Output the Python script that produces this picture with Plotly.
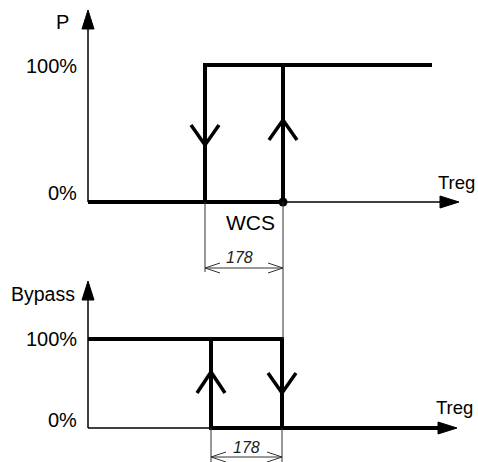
import plotly.graph_objects as go

W, H = 478, 462
OFF = 0          # body margin is removed in the page (see write_html)
FONT = "Liberation Sans, Arial, sans-serif"
INK = "#000000"
DIM = "#333333"

# ── Data: Treg in diagram units measured from the vertical axis ────
WCS = 195             # switching point (dot on the P axis)
HYST_LABEL = "178"    # text written on the dimension lines

P_RISE_T = [0, 195, 195, 344]
P_RISE_V = [0, 0, 100, 100]
P_FALL_T = [344, 117, 117, 0]
P_FALL_V = [100, 100, 0, 0]

BYP_RISE_T = [0, 194, 194, 352]
BYP_RISE_V = [100, 100, 0, 0]
BYP_FALL_T = [352, 123, 123, 0]
BYP_FALL_V = [0, 0, 100, 100]

LEVELS = [0, 100]
LEVEL_LABELS = ["0%", "100%"]

# ── Panel geometry (page pixels) ──────────────────────────────────
X0 = 88
SPLIT = 278
TOP = dict(zero=202, full=65, dom=(OFF, SPLIT), xa="x", ya="y")
BOT = dict(zero=428, full=339, dom=(SPLIT, H + OFF), xa="x2", ya="y2")


def sc(p):
    return (p["zero"] - p["full"]) / 100.0


def pv(p, py):
    """page pixel row -> percent value of that panel"""
    return (p["zero"] - py) / sc(p)


def tv(px):
    return px - X0


fig = go.Figure()


def line(p, xs, ys, width, color=INK):
    fig.add_trace(go.Scatter(
        x=xs, y=ys, mode="lines", xaxis=p["xa"], yaxis=p["ya"],
        line=dict(color=color, width=width), hoverinfo="skip", showlegend=False,
    ))


def head(p, tip_px, tip_py, direction, length=19, half=6):
    """filled triangle arrow head for the axes"""
    if direction == "right":
        pts = [(tip_px, tip_py), (tip_px - length, tip_py - half), (tip_px - length, tip_py + half)]
    else:
        pts = [(tip_px, tip_py), (tip_px - half, tip_py + length), (tip_px + half, tip_py + length)]
    pts.append(pts[0])
    fig.add_trace(go.Scatter(
        x=[tv(a) for a, b in pts], y=[pv(p, b) for a, b in pts],
        mode="lines", fill="toself", fillcolor=INK, line=dict(color=INK, width=1),
        xaxis=p["xa"], yaxis=p["ya"], hoverinfo="skip", showlegend=False,
    ))


def chevron(p, t, vertex_py, direction, half=14, height=20, width=3.5, color=INK):
    dy = height if direction == "up" else -height
    pys = [vertex_py + dy, vertex_py, vertex_py + dy]
    line(p, [t - half, t, t + half], [pv(p, y) for y in pys], width, color)


def dim_arrow(p, t_from, t_to, py, color=DIM):
    line(p, [t_from, t_to], [pv(p, py)] * 2, 1, color)
    for tip, s in ((t_from, 1), (t_to, -1)):
        line(p, [tip + s * 15, tip, tip + s * 15],
             [pv(p, py - 5), pv(p, py), pv(p, py + 5)], 1, color)


# ── Top panel: P ──────────────────────────────────────────────────
line(TOP, [0, tv(441)], [0, 0], 1.5)
line(TOP, [0, 0], [0, pv(TOP, 28)], 1.5)
head(TOP, 459, TOP["zero"], "right")
head(TOP, X0, 10, "up")
line(TOP, P_RISE_T, P_RISE_V, 4)
line(TOP, P_FALL_T, P_FALL_V, 4)
chevron(TOP, P_FALL_T[1], 145, "down")
chevron(TOP, P_RISE_T[1], 120, "up")
fig.add_trace(go.Scatter(
    x=[WCS], y=[0], mode="markers", marker=dict(color=INK, size=9),
    xaxis="x", yaxis="y", hoverinfo="skip", showlegend=False,
))

# dimension lines (top)
line(TOP, [P_FALL_T[1]] * 2, [0, pv(TOP, 272)], 1, DIM)
line(TOP, [WCS] * 2, [0, pv(TOP, SPLIT + 5)], 1, DIM)
dim_arrow(TOP, P_FALL_T[1], WCS, 268)

# ── Bottom panel: Bypass ──────────────────────────────────────────
line(BOT, [0, tv(440)], [0, 0], 1.5)
line(BOT, [0, 0], [0, pv(BOT, 298)], 1.5)
head(BOT, 457, BOT["zero"], "right")
head(BOT, X0, 281, "up")
line(BOT, BYP_RISE_T, BYP_RISE_V, 4)
line(BOT, BYP_FALL_T, BYP_FALL_V, 4)
chevron(BOT, BYP_FALL_T[1], 372, "up", height=21)
chevron(BOT, BYP_RISE_T[1], 393, "down")

line(BOT, [WCS] * 2, [pv(BOT, SPLIT - 5), 100], 1, DIM)
for t in (BYP_FALL_T[1], BYP_RISE_T[1]):
    line(BOT, [t] * 2, [0, pv(BOT, 475)], 1, DIM)
dim_arrow(BOT, BYP_FALL_T[1], BYP_RISE_T[1], 457)


# ── Text (page pixel positions) ───────────────────────────────────
def text(s, px, py, xanchor="center", size=20, italic=False, color=INK):
    fig.add_annotation(
        text=f"<i>{s}</i>" if italic else s,
        x=(px - OFF) / W, y=1 - (py - OFF) / H,
        xref="paper", yref="paper", xanchor=xanchor, yanchor="middle",
        showarrow=False, font=dict(family=FONT, size=size, color=color),
    )


text("P", 62, 22)
text("Bypass", 77, 294, xanchor="right", size=19.5)
text("Treg", 436, 182, xanchor="left", size=18.5)
text("Treg", 434, 407, xanchor="left", size=18.5)
text("WCS", 250, 223, size=21)
for lbl, py in zip(LEVEL_LABELS, (193, 66)):
    text(lbl, 79, py, xanchor="right")
for lbl, py in zip(LEVEL_LABELS, (420, 339)):
    text(lbl, 79, py, xanchor="right")
text(HYST_LABEL, X0 + (P_FALL_T[1] + WCS) / 2 - 5, 257, size=16, italic=True, color="#222")
text(HYST_LABEL, X0 + (BYP_FALL_T[1] + BYP_RISE_T[1]) / 2, 447, size=16, italic=True, color="#222")


def yaxis(p):
    d0, d1 = p["dom"]
    return dict(range=[pv(p, d1), pv(p, d0)],
                domain=[1 - (d1 - OFF) / H, 1 - (d0 - OFF) / H],
                visible=False, fixedrange=True)


xax = dict(range=[tv(OFF), tv(W + OFF)], domain=[0, 1], visible=False, fixedrange=True)
fig.update_layout(
    width=W, height=H,
    margin=dict(l=0, r=0, t=0, b=0),
    plot_bgcolor="white", paper_bgcolor="white",
    xaxis=dict(xax, anchor="y"), yaxis=dict(yaxis(TOP), anchor="x"),
    xaxis2=dict(xax, anchor="y2"), yaxis2=dict(yaxis(BOT), anchor="x2"),
    showlegend=False,
)

fig.write_html(
    "out.html",
    config={"displayModeBar": False},
    post_script="document.body.style.margin='0';document.body.style.overflow='hidden';",
)
